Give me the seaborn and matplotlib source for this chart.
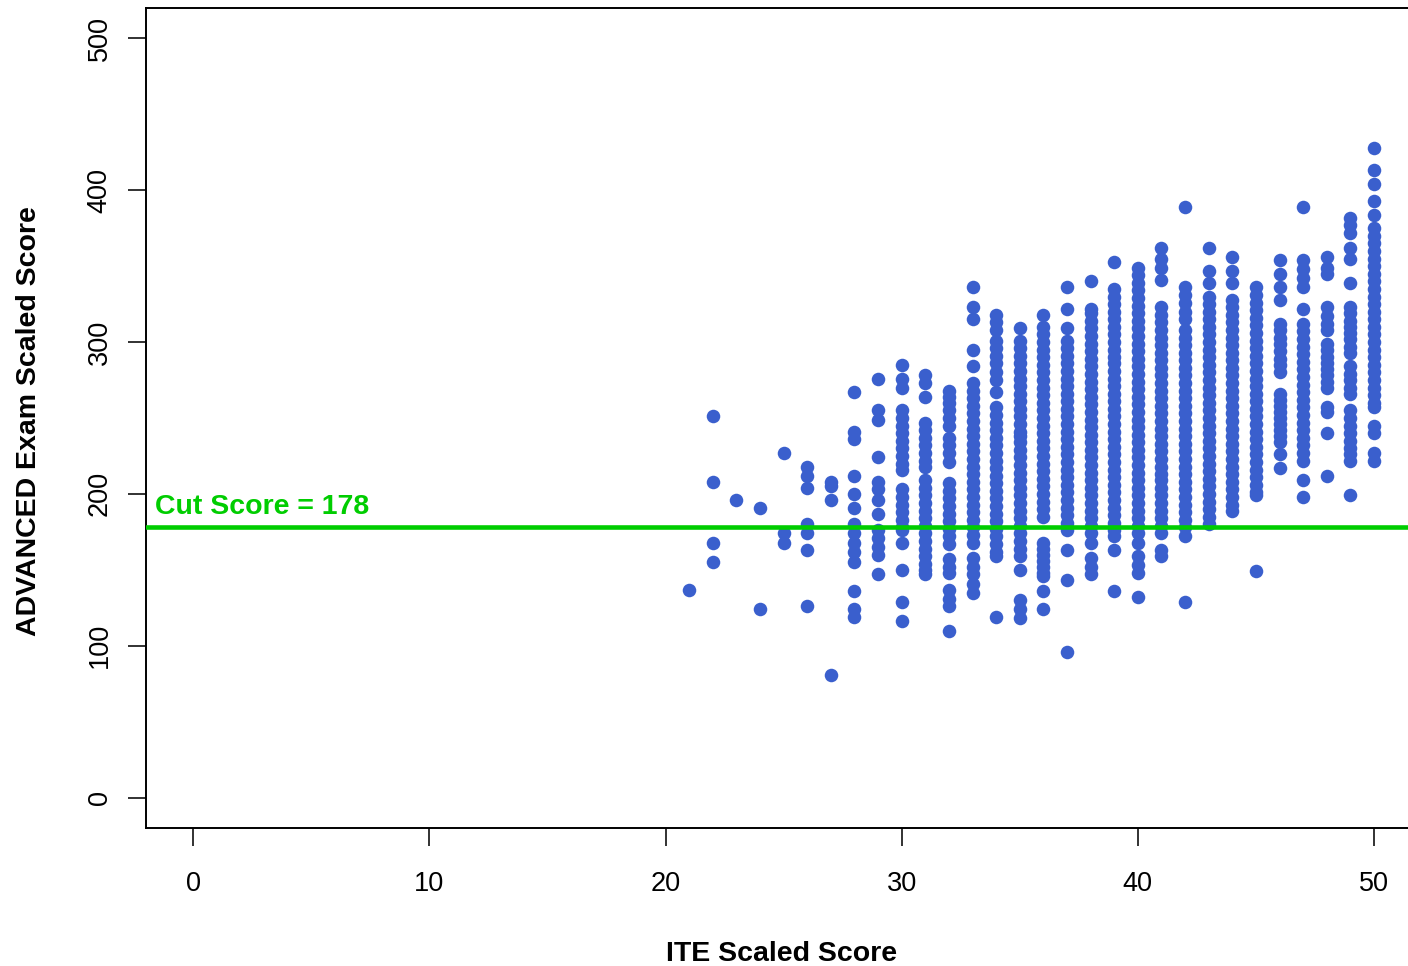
import pandas as pd
import matplotlib
matplotlib.use("Agg")
import matplotlib.pyplot as plt
import seaborn as sns

# ITE score (x) -> ADVANCED scaled scores, one list per column
adv_21 = [137]
adv_22 = [251, 208, 168, 155]
adv_23 = [196]
adv_24 = [191, 124]
adv_25 = [227, 174, 168]
adv_26 = [218, 212, 204, 180, 174, 163, 126]
adv_27 = [208, 205, 196, 81]
adv_28 = [267, 241, 236, 212, 200, 191, 180, 174, 168, 162, 155, 136, 124, 119]
adv_29 = [276, 255, 249, 224, 208, 203, 196, 187, 176, 171, 165, 160, 147]
adv_30 = [285, 276, 270, 255, 250, 245, 240, 235, 230, 225, 220, 216, 203, 198, 193,
          188, 183, 178, 176, 168, 150, 129, 116]
adv_31 = [278, 273, 264, 247, 242, 237, 232, 227, 222, 218, 209, 204, 199, 194, 189,
          184, 179, 174, 169, 164, 159, 154, 150, 147]
adv_32 = [268, 264, 260, 255, 250, 245, 237, 232, 227, 221, 207, 202, 197, 192, 187,
          182, 177, 172, 167, 157, 152, 148, 137, 131, 126, 110]
adv_33 = [336, 323, 315, 295, 284, 273, 268, 263, 258, 253, 248, 243, 238, 233, 228,
          223, 218, 213, 208, 203, 198, 193, 188, 183, 178, 173, 168, 158, 152, 147,
          141, 135]
adv_34 = [318, 313, 308, 301, 296, 291, 286, 280, 275, 267, 257, 252, 247, 242, 237,
          232, 227, 222, 217, 212, 207, 202, 197, 192, 187, 182, 177, 172, 167, 162,
          159, 119]
adv_35 = [309, 301, 296, 291, 286, 281, 276, 271, 266, 261, 256, 251, 246, 241, 238,
          234, 229, 224, 219, 214, 209, 204, 199, 194, 189, 184, 179, 174, 169, 164,
          159, 150, 130, 124, 118]
adv_36 = [318, 310, 305, 300, 295, 290, 285, 280, 275, 270, 265, 260, 255, 250, 245,
          240, 235, 230, 225, 220, 215, 210, 205, 200, 195, 190, 185, 168, 164, 160,
          156, 152, 148, 146, 136, 124]
adv_37 = [336, 322, 309, 301, 296, 291, 286, 281, 276, 271, 266, 261, 256, 251, 246,
          241, 236, 231, 226, 221, 216, 211, 206, 201, 196, 191, 186, 181, 176, 163,
          143, 96]
adv_38 = [340, 322, 319, 314, 309, 304, 299, 294, 289, 284, 279, 274, 269, 264, 259,
          254, 249, 244, 239, 234, 229, 224, 219, 214, 209, 204, 199, 194, 189, 184,
          179, 174, 168, 158, 152, 147]
adv_39 = [353, 335, 330, 325, 320, 315, 310, 305, 300, 295, 290, 286, 281, 276, 271,
          266, 261, 256, 251, 246, 241, 236, 231, 226, 221, 216, 211, 206, 201, 196,
          191, 186, 181, 176, 172, 163, 136]
adv_40 = [349, 344, 339, 334, 329, 324, 319, 314, 309, 304, 299, 294, 289, 284, 279,
          274, 269, 264, 259, 254, 249, 244, 239, 234, 229, 224, 219, 214, 209, 204,
          199, 194, 189, 184, 179, 174, 168, 159, 153, 148, 132]
adv_41 = [362, 355, 349, 341, 323, 318, 313, 308, 303, 298, 293, 288, 283, 278, 273,
          268, 263, 258, 253, 248, 243, 238, 233, 228, 223, 218, 213, 209, 204, 199,
          194, 189, 184, 179, 174, 163, 159]
adv_42 = [389, 336, 331, 326, 320, 315, 308, 303, 298, 293, 288, 283, 278, 273, 268,
          263, 258, 253, 248, 243, 238, 233, 228, 223, 218, 213, 208, 203, 198, 193,
          188, 183, 178, 172, 129]
adv_43 = [362, 347, 339, 330, 325, 320, 315, 310, 305, 300, 295, 290, 285, 280, 275,
          270, 265, 260, 255, 250, 245, 240, 235, 230, 225, 220, 215, 210, 205, 200,
          195, 190, 185, 180]
adv_44 = [356, 347, 339, 328, 323, 318, 313, 308, 303, 298, 293, 288, 283, 278, 273,
          268, 263, 258, 253, 248, 243, 238, 233, 228, 223, 218, 213, 208, 203, 198,
          193, 189]
adv_45 = [336, 331, 326, 321, 316, 311, 306, 301, 296, 291, 286, 281, 276, 271, 266,
          261, 256, 251, 246, 241, 236, 231, 226, 221, 216, 211, 206, 201, 199, 149]
adv_46 = [354, 345, 336, 328, 312, 308, 303, 299, 294, 289, 285, 280, 266, 262, 258,
          254, 250, 246, 242, 238, 234, 226, 217]
adv_47 = [389, 354, 348, 342, 336, 322, 312, 307, 302, 297, 292, 287, 282, 277, 272,
          267, 262, 257, 252, 247, 242, 237, 232, 227, 222, 209, 198]
adv_48 = [356, 349, 345, 323, 317, 312, 308, 299, 295, 290, 286, 282, 278, 274, 270,
          257, 254, 240, 212]
adv_49 = [382, 377, 372, 362, 355, 339, 323, 319, 314, 310, 306, 302, 297, 293, 284,
          279, 275, 270, 266, 255, 250, 245, 240, 235, 230, 226, 222, 199]
adv_50 = [428, 413, 404, 393, 384, 375, 370, 365, 360, 355, 350, 345, 340, 335, 330,
          325, 320, 315, 310, 305, 300, 295, 290, 285, 280, 275, 270, 265, 260, 257,
          245, 240, 227, 222]

cut_score = 178
x_ticks = [0, 10, 20, 30, 40, 50]
y_ticks = [0, 100, 200, 300, 400, 500]

columns = {21: adv_21, 22: adv_22, 23: adv_23, 24: adv_24, 25: adv_25, 26: adv_26,
           27: adv_27, 28: adv_28, 29: adv_29, 30: adv_30, 31: adv_31, 32: adv_32,
           33: adv_33, 34: adv_34, 35: adv_35, 36: adv_36, 37: adv_37, 38: adv_38,
           39: adv_39, 40: adv_40, 41: adv_41, 42: adv_42, 43: adv_43, 44: adv_44,
           45: adv_45, 46: adv_46, 47: adv_47, 48: adv_48, 49: adv_49, 50: adv_50}

rows = []
for ite, scores in columns.items():
    for s in scores:
        rows.append((ite, s))
df = pd.DataFrame(rows, columns=['ite', 'advanced'])

sns.set_style("ticks")
plt.rcParams['font.family'] = ['Liberation Sans', 'DejaVu Sans']
plt.rcParams['text.color'] = 'black'
plt.rcParams['axes.labelcolor'] = 'black'
plt.rcParams['xtick.color'] = '#222222'
plt.rcParams['ytick.color'] = '#222222'
plt.rcParams['xtick.labelcolor'] = 'black'
plt.rcParams['ytick.labelcolor'] = 'black'

fig = plt.figure(figsize=(14.08, 9.66), dpi=100)
ax = fig.add_axes([146 / 1408, 138 / 966, 1 - 146 / 1408, 820 / 966])

sns.scatterplot(data=df, x='ite', y='advanced', ax=ax, color='#3A5FCD',
                s=95, linewidth=0, zorder=2)
ax.axhline(cut_score, color='#00CD00', lw=3.3, zorder=3)
ax.text(-1.6, 187, 'Cut Score = 178', color='#00CD00', fontsize=20.5,
        fontweight='bold', va='baseline', ha='left')

ax.set_xlim(-2, 51.44)
ax.set_ylim(-20, 520)
ax.set_xticks(x_ticks)
ax.set_yticks(y_ticks)
ax.tick_params(axis='both', labelsize=19.5, length=13, width=1.3)
ax.tick_params(axis='x', pad=18)
ax.tick_params(axis='y', pad=11)
for lab in ax.get_yticklabels():
    lab.set_rotation(90)
    lab.set_va('center')

for side in ['left', 'bottom', 'top']:
    ax.spines[side].set_linewidth(1.4)
    ax.spines[side].set_color('black')
ax.spines['right'].set_visible(False)

ax.set_xlabel('ITE Scaled Score', fontsize=20.5, fontweight='bold')
ax.set_ylabel('ADVANCED Exam Scaled Score', fontsize=20.5, fontweight='bold')
ax.xaxis.label.set_va('center')
ax.yaxis.label.set_va('center')
ax.xaxis.set_label_coords(0.504, -0.1535)
ax.yaxis.set_label_coords(-0.0925, 0.496)

fig.savefig('out.png', dpi=100)
plt.close()
